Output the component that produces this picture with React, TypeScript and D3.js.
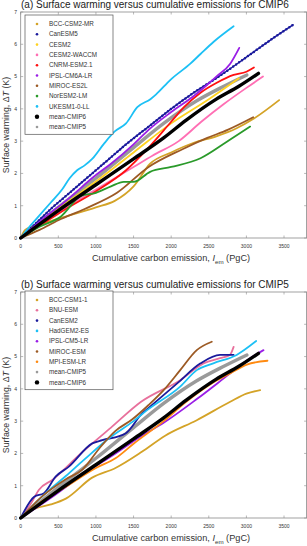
import React from 'react';
import * as d3 from 'd3';

// cumulative emission (PgC), warming (K)
const bccCsm2Mr = [[0,0],[60,0.25],[150,0.35],[300,0.45],[500,0.6],[750,0.77],[1000,0.95],[1250,1.15],[1500,1.6],[1720,2.3],[2000,2.65],[2300,2.95],[2600,3.15],[2870,3.4],[3100,3.7],[3435,4.27]];
const canEsm5 = [[0,0],[200,0.45],[400,0.9],[600,1.3],[800,1.7],[1000,2.1],[1200,2.5],[1400,2.9],[1700,3.45],[2000,4.0],[2300,4.5],[2600,4.95],[3000,5.6],[3300,6.1],[3620,6.6]];
const cesm2 = [[0,0],[500,0.9],[1000,1.75],[1500,2.65],[2000,3.55],[2500,4.3],[2900,4.95]];
const cesm2Waccm = [[0,0],[300,0.5],[600,0.95],[1000,1.5],[1500,2.2],[1750,2.55],[2100,3.0],[2400,3.6],[2700,4.15],[3000,4.65],[3220,5.0]];
const cnrmEsm21 = [[0,0],[300,0.45],[600,0.9],[1000,1.45],[1400,2.1],[1700,2.8],[2000,3.6],[2170,4.05],[2390,4.5],[2600,4.8],[2830,5.05],[3000,5.15],[3100,5.28]];
const ipslCm6a = [[0,0],[300,0.6],[600,1.15],[1000,1.95],[1200,2.3],[1500,2.9],[1700,3.35],[2000,3.9],[2300,4.4],[2475,4.74],[2600,5.0],[2785,5.4],[2905,5.89]];
const mirocEs2l = [[0,0],[250,0.25],[500,0.55],[850,0.9],[1280,1.4],[1700,2.2],[2150,2.75],[2480,3.1],[2750,3.35],[3090,3.74]];
const norEsm2Lm = [[0,0],[250,0.35],[530,0.66],[800,1.3],[1000,1.4],[1200,1.6],[1370,1.74],[1500,1.74],[1720,2.05],[2000,2.2],[2390,2.47],[2740,2.98],[3050,3.45]];
const ukesm = [[0,0],[100,0.3],[250,0.7],[400,1.1],[550,1.5],[650,1.85],[750,2.1],[850,2.25],[950,2.45],[1100,2.9],[1250,3.3],[1400,3.55],[1550,4.05],[1724,4.3],[1800,4.45],[1990,4.9],[2255,5.4],[2390,5.7],[2565,6.08],[2830,6.56]];
const meanCmip6 = [[0,0],[500,0.85],[1000,1.65],[1500,2.45],[1900,3.1],[2200,3.65],[2600,4.3],[2900,4.7],[3160,5.1]];
const meanCmip5 = [[0,0],[500,0.95],[1000,1.85],[1500,2.8],[1900,3.55],[2340,4.25],[2700,4.7],[3006,5.05]];

const bccCsm11 = [[0,0],[100,0.2],[200,0.3],[400,0.42],[600,0.6],[950,1.25],[1260,1.55],[1610,2.05],[1920,2.55],[2340,3.03],[2785,3.6],[3000,3.85],[3183,3.96]];
const bnuEsm = [[0,0],[150,0.5],[240,0.87],[420,1.18],[800,2.0],[1200,2.8],[1600,3.6],[2120,4.27],[2430,4.79],[2650,4.95],[2780,5.05],[2830,5.3]];
const canEsm2 = [[0,0],[180,0.66],[310,0.77],[464,1.28],[640,1.59],[951,2.31],[1084,2.41],[1393,2.62],[1614,3.24],[1720,3.45],[2080,4.17],[2390,4.79],[2650,5.05],[2830,5.05]];
const hadGem2Es = [[0,0],[300,0.7],[600,1.3],[840,1.8],[1190,2.5],[1500,3.0],[1680,3.34],[2120,4.07],[2340,4.58],[2560,4.79],[2870,5.05],[3130,5.48]];
const ipslCm5a = [[0,0],[460,0.72],[800,1.3],[1260,2.0],[1590,2.52],[1900,2.95],[2350,3.7],[2785,4.48],[3050,4.95],[3227,5.2]];
const mirocEsm = [[0,0],[300,0.7],[600,1.2],[820,1.5],[1060,2.2],[1260,2.7],[1480,3.05],[1700,3.5],[1900,3.96],[2120,4.58],[2340,5.2],[2540,5.46]];
const mpiEsmLr = [[0,0],[300,0.55],[600,0.97],[1000,1.55],[1260,1.85],[1500,2.3],[1900,3.0],[2200,3.6],[2560,4.2],[2800,4.5],[3006,4.75],[3280,4.87]];

const xTicks = [0, 500, 1000, 1500, 2000, 2500, 3000, 3500];
const yTicks = [0, 1, 2, 3, 4, 5, 6, 7];

type Series = { name: string; data: number[][]; color: string; width: number; beads?: boolean; big?: boolean };

const cmip6Models: Series[] = [
  { name: 'BCC-CSM2-MR', data: bccCsm2Mr, color: '#d4a327', width: 1.8 },
  { name: 'CanESM5', data: canEsm5, color: '#1a1a9c', width: 1.5, beads: true },
  { name: 'CESM2', data: cesm2, color: '#ffd21f', width: 1.8 },
  { name: 'CESM2-WACCM', data: cesm2Waccm, color: '#ff6fb4', width: 1.8 },
  { name: 'CNRM-ESM2.1', data: cnrmEsm21, color: '#ff1010', width: 1.8 },
  { name: 'IPSL-CM6A-LR', data: ipslCm6a, color: '#9a1ee6', width: 1.8 },
  { name: 'MIROC-ES2L', data: mirocEs2l, color: '#9c5a24', width: 1.8 },
  { name: 'NorESM2-LM', data: norEsm2Lm, color: '#2a9a2a', width: 1.8 },
  { name: 'UKESM1-0-LL', data: ukesm, color: '#1cc0f5', width: 1.8 },
];
const cmip5Models: Series[] = [
  { name: 'BCC-CSM1-1', data: bccCsm11, color: '#d4a327', width: 1.8 },
  { name: 'BNU-ESM', data: bnuEsm, color: '#e8709c', width: 1.8 },
  { name: 'CanESM2', data: canEsm2, color: '#1a1a9c', width: 1.8 },
  { name: 'HadGEM2-ES', data: hadGem2Es, color: '#1cc0f5', width: 1.8 },
  { name: 'IPSL-CM5-LR', data: ipslCm5a, color: '#9a1ee6', width: 1.8 },
  { name: 'MIROC-ESM', data: mirocEsm, color: '#9c5a24', width: 1.8 },
  { name: 'MPI-ESM-LR', data: mpiEsmLr, color: '#ff8a10', width: 1.8 },
];
const mean6: Series = { name: 'mean-CMIP6', data: meanCmip6, color: '#000000', width: 3.4, big: true };
const mean5: Series = { name: 'mean-CMIP5', data: meanCmip5, color: '#9a9a9a', width: 3.4 };

const FONT = '"Liberation Sans", Arial, Helvetica, sans-serif';
const x = d3.scaleLinear().domain([0, 3800]).range([20.7, 306.6]);

function Panel({ title, top, models, legend, legendTop }: { title: string; top: number; models: Series[]; legend: Series[]; legendTop: number }) {
  const bottom = top + 226;
  const y = d3.scaleLinear().domain([0, 7]).range([bottom, top]);
  const line = d3.line<number[]>().x(d => x(d[0])).y(d => y(d[1])).curve(d3.curveMonotoneX);
  const [x0, x1] = x.range();
  const drawn = [mean5, ...models, mean6];
  const rowH = 10.3;
  const legH = legend.length * rowH + 6;
  return (
    <g>
      <text x={21} y={top - 4} fontSize={10} fill="#222" fontFamily={FONT}>{title}</text>
      <rect x={x0} y={top} width={x1 - x0} height={bottom - top} fill="#fff" stroke="#8a8a8a" strokeWidth={0.8} />
      {xTicks.map(t => (
        <g key={'x' + t}>
          <line x1={x(t)} x2={x(t)} y1={bottom} y2={bottom - 2.5} stroke="#8a8a8a" strokeWidth={0.6} />
          <line x1={x(t)} x2={x(t)} y1={top} y2={top + 2.5} stroke="#8a8a8a" strokeWidth={0.6} />
          <text x={x(t)} y={bottom + 10} fontSize={5} textAnchor="middle" fill="#333" fontFamily={FONT}>{t}</text>
        </g>
      ))}
      {yTicks.map(t => (
        <g key={'y' + t}>
          <line x1={x0} x2={x0 + 2.5} y1={y(t)} y2={y(t)} stroke="#8a8a8a" strokeWidth={0.6} />
          <line x1={x1} x2={x1 - 2.5} y1={y(t)} y2={y(t)} stroke="#8a8a8a" strokeWidth={0.6} />
          <text x={17} y={y(t) + 1.8} fontSize={5} textAnchor="end" fill="#333" fontFamily={FONT}>{t}</text>
        </g>
      ))}
      {drawn.map(s => (
        <g key={s.name}>
          <path d={line(s.data) || ''} fill="none" stroke={s.color} strokeWidth={s.width} strokeLinejoin="round" strokeLinecap="round" />
          {s.beads && (
            <path d={line(s.data) || ''} fill="none" stroke={s.color} strokeWidth={2.5} strokeDasharray="0 3.6" strokeLinecap="round" />
          )}
        </g>
      ))}
      <rect x={25} y={legendTop} width={88} height={legH} fill="#fff" stroke="#555" strokeWidth={0.7} />
      {legend.map((s, i) => {
        const cy = legendTop + 9 + i * rowH;
        return (
          <g key={'l' + s.name}>
            <circle cx={37} cy={cy} r={s.big ? 2.2 : 1.3} fill={s.color} />
            <text x={49} y={cy + 2.1} fontSize={6.3} fill="#333" fontFamily={FONT}>{s.name}</text>
          </g>
        );
      })}
      <text transform={`translate(8.5,${(top + bottom) / 2}) rotate(-90)`} textAnchor="middle" fontSize={8.8} fill="#333" fontFamily={FONT}>
        Surface warming, Δ<tspan fontStyle="italic">T</tspan> (K)
      </text>
      <text x={171} y={bottom + 23} textAnchor="middle" fontSize={9.2} fill="#333" fontFamily={FONT}>
        Cumulative carbon emission, <tspan fontStyle="italic">I</tspan><tspan fontSize={6.2} dy={2.5}>em</tspan><tspan dy={-2.5}> (PgC)</tspan>
      </text>
    </g>
  );
}

export default function App() {
  return (
    <svg width={307} height={546} style={{ position: 'absolute', left: 0, top: 0, background: '#fff' }}>
      <rect width={307} height={546} fill="#fff" />
      <Panel title="(a) Surface warming versus cumulative emissions for CMIP6" top={12} models={cmip6Models} legend={[...cmip6Models, mean6, mean5]} legendTop={15} />
      <Panel title="(b) Surface warming versus cumulative emissions for CMIP5" top={292} models={cmip5Models} legend={[...cmip5Models, mean5, mean6]} legendTop={291} />
    </svg>
  );
}
